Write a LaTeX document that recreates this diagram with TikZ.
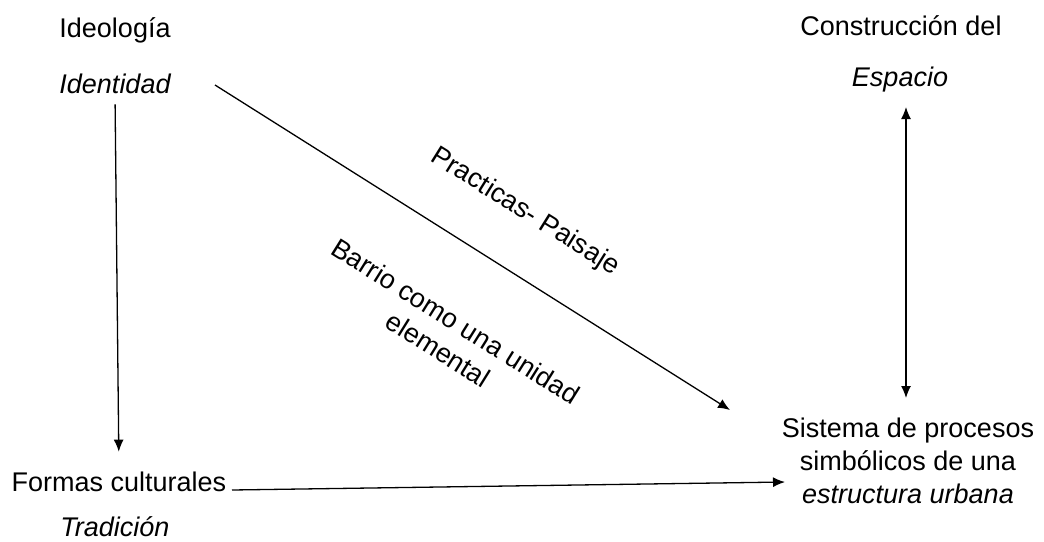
\documentclass[tikz,border=0pt]{standalone}
\usepackage{fontspec}
\setmainfont{Liberation Sans}
\usetikzlibrary{arrows.meta}

\begin{document}
\begin{tikzpicture}[x=0.5pt,y=-0.5pt,
	txt/.style={font=\fontsize{13.5}{16.5}\selectfont,inner sep=0pt},
	itx/.style={txt,font=\fontsize{13.5}{16.5}\selectfont\itshape},
	arr/.style={-{Latex[length=6pt,width=5pt]},line width=0.65pt}]
	\useasboundingbox (0,0) rectangle (1044,541);

	\node[txt] (ideo) at (115,30) {Ideología};
	\node[itx] (iden) at (115,84) {Identidad};
	\node[txt] (formas) at (119,482) {Formas culturales};
	\node[itx] (trad) at (115,527) {Tradición};
	\node[txt] (constr) at (901,26) {Construcción del};
	\node[itx] (espacio) at (900,80) {Espacio};
	\node[txt,align=center] (sist) at (908,461) {Sistema de procesos\\simbólicos de una\\\textit{estructura urbana}};

	\coordinate (d1) at (215,85);
	\coordinate (d2) at (730,410);
	\coordinate (h1) at (232,490);
	\coordinate (h2) at (785,482);
	\coordinate (v1) at (906,107);
	\coordinate (v2) at (906,398);

	\draw[arr] (iden.south) -- (formas.north) [shorten <=5pt,shorten >=10pt];
	\draw[arr] (d1) -- (d2);
	\draw[arr] (h1) -- (h2);
	\draw[arr,{Latex[length=6pt,width=5pt]}-{Latex[length=6pt,width=5pt]}] (v1) -- (v2);

	\node[txt,rotate=-32] (prac) at (525,212) {Practicas- Paisaje};
	\node[txt,rotate=-32,align=center] (barrio) at (447,335) {Barrio como una unidad\\elemental};
\end{tikzpicture}
\end{document}
